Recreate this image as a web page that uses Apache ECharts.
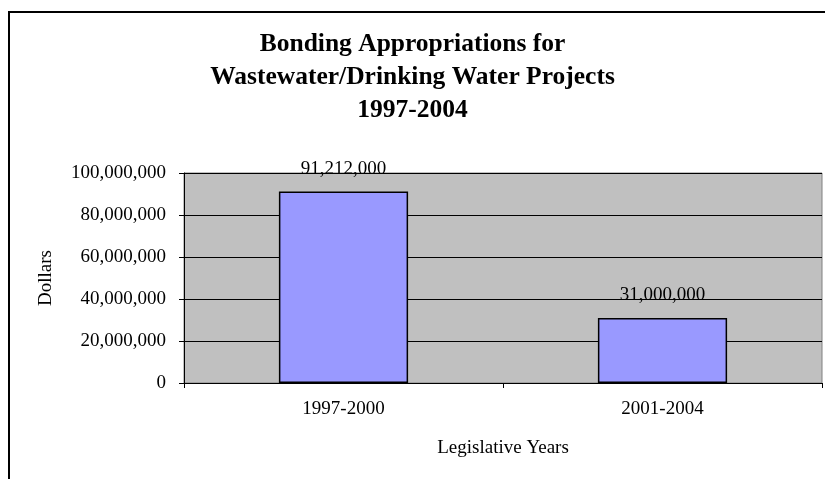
<!DOCTYPE html>
<html>
<head>
<meta charset="utf-8">
<script src="https://cdn.jsdelivr.net/npm/echarts@6/dist/echarts.min.js"></script>
<style>
  html, body { margin: 0; padding: 0; background: #fff; }
  #chart { width: 825px; height: 479px; }
</style>
</head>
<body>
<div id="chart"></div>
<script>
// Bonding appropriations per legislative period
const periods = ['1997-2000', '2001-2004'];
const appropriations = [91212000, 31000000];
const yTicks = { min: 0, max: 100000000, interval: 20000000 };

const serif = "'Liberation Serif', 'Times New Roman', serif";
const fmt = v => Number(v).toLocaleString('en-US');

const chart = echarts.init(document.getElementById('chart'));
chart.setOption({
  backgroundColor: '#ffffff',
  animation: false,
  graphic: [{
    type: 'rect',
    shape: { x: 9, y: 12, width: 900, height: 600 },
    style: { fill: 'none', stroke: '#000', lineWidth: 2 },
    z: 0
  }],
  title: {
    text: 'Bonding Appropriations for\nWastewater/Drinking Water Projects\n1997-2004',
    left: 'center',
    top: 23,
    textStyle: {
      fontFamily: serif,
      fontSize: 25.5,
      fontWeight: 'bold',
      color: '#000',
      lineHeight: 33
    }
  },
  grid: {
    left: 184, right: 3, top: 173, bottom: 96,
    show: true,
    backgroundColor: '#c0c0c0',
    borderColor: '#808080',
    borderWidth: 1
  },
  xAxis: {
    type: 'category',
    data: periods,
    boundaryGap: true,
    name: 'Legislative Years',
    nameLocation: 'middle',
    nameGap: 56,
    nameTextStyle: { fontFamily: serif, fontSize: 19, color: '#000' },
    axisLine: { show: true, lineStyle: { color: '#000', width: 1 } },
    axisTick: { show: true, length: 5, alignWithLabel: false, lineStyle: { color: '#000' } },
    axisLabel: { fontFamily: serif, fontSize: 19, color: '#000', margin: 17 },
    splitLine: { show: false }
  },
  yAxis: {
    type: 'value',
    min: yTicks.min,
    max: yTicks.max,
    interval: yTicks.interval,
    name: 'Dollars',
    nameLocation: 'middle',
    nameGap: 128,
    nameRotate: 90,
    nameTextStyle: { fontFamily: serif, fontSize: 19, color: '#000' },
    axisLine: { show: true, lineStyle: { color: '#000', width: 1 } },
    axisTick: { show: true, length: 5, lineStyle: { color: '#000' } },
    axisLabel: { fontFamily: serif, fontSize: 19, color: '#000', margin: 18, formatter: fmt },
    splitLine: { show: true, lineStyle: { color: '#000', width: 1 } }
  },
  series: [{
    type: 'bar',
    data: appropriations,
    barCategoryGap: '59.5%',
    itemStyle: { color: '#9999ff', borderColor: '#000', borderWidth: 1.5 },
    label: {
      show: true,
      position: 'top',
      distance: 13,
      fontFamily: serif,
      fontSize: 19,
      color: '#000',
      formatter: p => fmt(p.value)
    }
  }]
});
</script>
</body>
</html>
